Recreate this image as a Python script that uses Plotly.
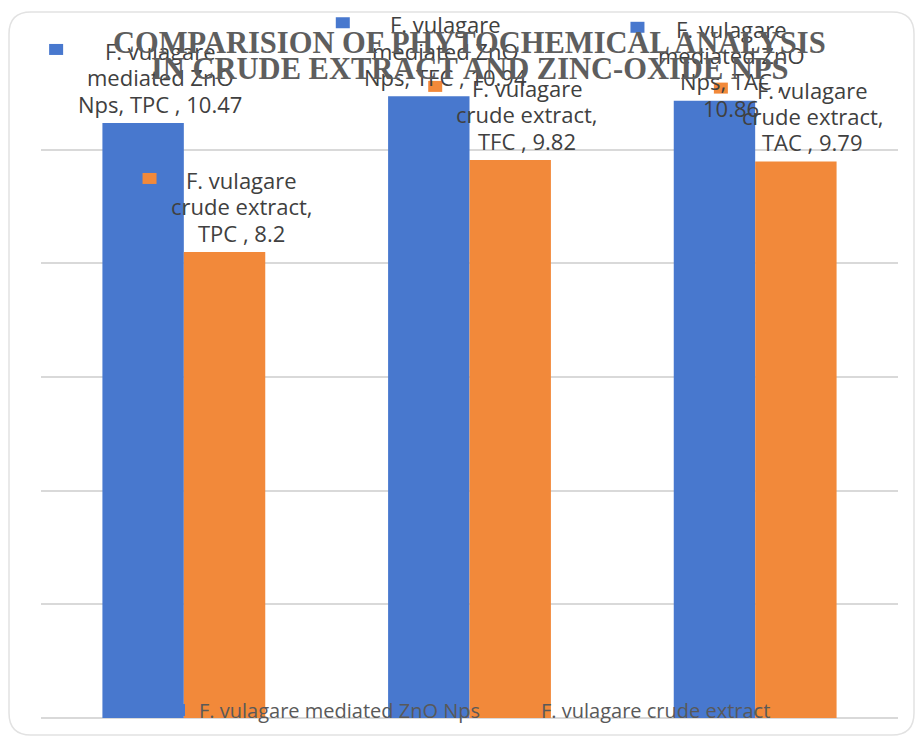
import textwrap
import plotly.graph_objects as go

# ---- data ----
categories = ["TPC", "TFC", "TAC"]
zno_nps = [10.47, 10.94, 10.86]
crude_extract = [8.2, 9.82, 9.79]
series_names = ["F. vulagare mediated ZnO Nps", "F. vulagare crude extract"]
title_lines = ["COMPARISION OF PHYTOCHEMICAL ANALYSIS",
               "IN CRUDE EXTRACT AND ZINC-OXIDE NPS"]
y_ticks = [0, 2, 4, 6, 8, 10, 12]

# ---- styling / layout ----
series_colors = ["#4878CE", "#F2893A"]
W, H = 918, 738
M = dict(l=41, r=20, t=36, b=20, autoexpand=False)
Y_MAX = 12
BARGAP = 0.43
LABEL_FONT = dict(family="Open Sans", size=22, color="#404040")
LABEL_DX = 17          # label centre offset from bar centre (px)
LABEL_TOP = 72         # first label line above bar top (px)
LINE_STEP = 26.3       # label line spacing (px)
# character wrap width and key-square offset for each data callout
wrap_width = [[16, 16, 15], [16, 16, 16]]
key_dx = [[-104, -103, -94], [-92, -92, -92]]

plot_w = W - M["l"] - M["r"]
plot_h = H - M["t"] - M["b"]


def px_to_paper(px, py):
    return (px - M["l"]) / plot_w, (H - M["b"] - py) / plot_h


fig = go.Figure()
all_values = [zno_nps, crude_extract]
for name, vals, col in zip(series_names, all_values, series_colors):
    fig.add_trace(go.Bar(x=categories, y=vals, name=name,
                         marker=dict(color=col, line=dict(width=0))))

annotations = []
shapes = []
n_cat = len(categories)
half = (1 - BARGAP) / 4
for s, (name, vals, col) in enumerate(zip(series_names, all_values, series_colors)):
    sign = -1 if s == 0 else 1
    for i, (cat, v) in enumerate(zip(categories, vals)):
        xpos = i + sign * half
        text = f"{name}, {cat} , {v:g}"
        lines = textwrap.wrap(text, wrap_width[s][i])
        for k, ln in enumerate(lines):
            annotations.append(dict(
                x=xpos, y=v, xref="x", yref="y", text=ln, showarrow=False,
                xanchor="center", yanchor="middle",
                xshift=LABEL_DX, yshift=LABEL_TOP - k * LINE_STEP,
                font=LABEL_FONT))
        # legend key square of the callout (paper refs so it is not clipped)
        kx = LABEL_DX + key_dx[s][i]
        ky = LABEL_TOP + 1.5
        shapes.append(dict(
            type="rect", xref="paper", yref="paper",
            xsizemode="pixel", ysizemode="pixel",
            xanchor=(xpos + 0.5) / n_cat, yanchor=v / Y_MAX,
            x0=kx - 7, x1=kx + 7, y0=ky - 5.5, y1=ky + 5.5,
            fillcolor=col, line=dict(width=0), layer="above"))

# two-line title with tight leading
for ln, py in zip(title_lines, [43, 69]):
    _, py_ = px_to_paper(0, py)
    annotations.append(dict(
        x=0.5, y=py_, xref="paper", yref="paper", text=f"<b>{ln}</b>",
        showarrow=False, xanchor="center", yanchor="middle",
        font=dict(family="Liberation Serif", size=30.5, color="#5E5E5E")))

# rounded chart border
bx0, by0 = px_to_paper(9, 12)
bx1, by1 = px_to_paper(914, 735)
rx = 22 / plot_w
ry = 22 / plot_h
path = (f"M {bx0 + rx},{by0} L {bx1 - rx},{by0} Q {bx1},{by0} {bx1},{by0 - ry} "
        f"L {bx1},{by1 + ry} Q {bx1},{by1} {bx1 - rx},{by1} "
        f"L {bx0 + rx},{by1} Q {bx0},{by1} {bx0},{by1 + ry} "
        f"L {bx0},{by0 - ry} Q {bx0},{by0} {bx0 + rx},{by0} Z")
shapes.append(dict(type="path", xref="paper", yref="paper", path=path,
                   line=dict(color="#E2E2E2", width=1.5), layer="below"))

lx, ly = px_to_paper(159, 710)
fig.update_layout(
    width=W, height=H, margin=M,
    paper_bgcolor="white", plot_bgcolor="white",
    barmode="group", bargap=BARGAP, bargroupgap=0,
    showlegend=True,
    legend=dict(orientation="h", x=lx, y=ly, xanchor="left", yanchor="middle",
                entrywidth=297, entrywidthmode="pixels",
                bgcolor="rgba(0,0,0,0)", font=dict(family="Open Sans", size=20, color="#595959"),
                itemclick=False),
    xaxis=dict(showticklabels=False, showgrid=False, showline=False, zeroline=False,
               ticks=""),
    yaxis=dict(range=[0, Y_MAX], tickvals=y_ticks, showticklabels=False,
               showgrid=True, gridcolor="#D9D9D9", gridwidth=1.5,
               zeroline=True, zerolinecolor="#D9D9D9", zerolinewidth=1.5,
               showline=False, ticks=""),
    annotations=annotations,
    shapes=shapes,
)

fig.write_html("out.html")
